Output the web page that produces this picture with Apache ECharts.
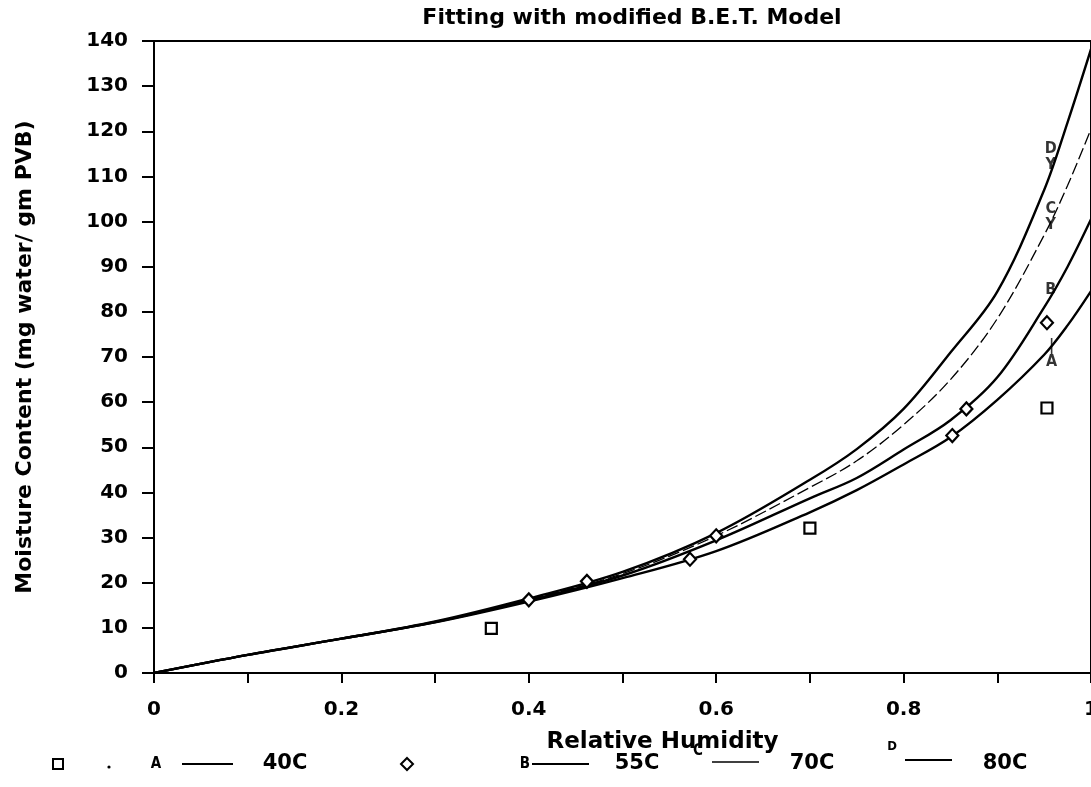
<!DOCTYPE html>
<html>
<head>
<meta charset="utf-8">
<title>Fitting with modified B.E.T. Model</title>
<script src="https://cdn.jsdelivr.net/npm/echarts@6/dist/echarts.min.js"></script>
<style>
  html, body { margin: 0; padding: 0; background: #fff; }
  #chart { width: 1091px; height: 787px; }
</style>
</head>
<body>
<div id="chart"></div>
<script>
// measured points
const rh40 = [0.36, 0.70, 0.953]
const mc40 = [9.9, 32.1, 58.7]
const rh55 = [0.40, 0.462, 0.572, 0.60, 0.852, 0.867, 0.953]
const mc55 = [16.2, 20.3, 25.2, 30.4, 52.6, 58.5, 77.6]

// fitted curves
const rhFit = [0, 0.1, 0.2, 0.3, 0.4, 0.5, 0.6, 0.7, 0.75, 0.8, 0.85, 0.9, 0.95, 0.975, 1.0]
const fitA = [0, 4.0, 7.6, 11.2, 15.8, 21.0, 27.0, 35.6, 40.5, 46.2, 52.2, 60.5, 70.5, 77.0, 84.6]
const fitB = [0, 4.0, 7.6, 11.3, 16.1, 21.6, 29.4, 38.7, 43.2, 49.5, 56.0, 65.5, 81.0, 90.0, 100.5]
const fitC = [0, 4.0, 7.6, 11.3, 16.3, 22.0, 30.4, 41.1, 47.0, 55.0, 65.0, 78.5, 97.0, 108.0, 120.5]
const fitD = [0, 4.0, 7.6, 11.4, 16.5, 22.4, 31.0, 42.8, 49.6, 58.5, 71.0, 84.5, 107.0, 122.0, 138.2]

// curve tags next to the right end
const tagNames = ['D\nY', 'C\nY', 'B', '|\nA']
const tagRh = [0.957, 0.957, 0.957, 0.958]
const tagMc = [114.3, 101.1, 84.8, 70.7]

const font = 'DejaVu Sans'
const narrow = 'DejaVu Sans Condensed'

function pairs(xs, ys) {
  return xs.map((x, i) => [x, ys[i]])
}

function fitSeries(name, ys, width, type) {
  return {
    name: name,
    type: 'line',
    data: pairs(rhFit, ys),
    smooth: 0.35,
    symbol: 'none',
    lineStyle: { color: '#000', width: width, type: type },
    z: 2
  }
}

const chart = echarts.init(document.getElementById('chart'))

// hand drawn style legend row under the axis title
const legendY = 764
const legendItems = [
  { type: 'rect', shape: { x: 53, y: legendY - 5, width: 10, height: 10 }, style: { fill: '#fff', stroke: '#000', lineWidth: 2 } },
  { type: 'circle', shape: { cx: 109, cy: legendY + 3, r: 1.6 }, style: { fill: '#000' } },
  { type: 'text', x: 156, y: legendY, style: { text: 'A', font: 'bold 15px ' + narrow, fill: '#000', align: 'center', verticalAlign: 'middle' } },
  { type: 'line', shape: { x1: 182, y1: legendY, x2: 233, y2: legendY }, style: { stroke: '#000', lineWidth: 2 } },
  { type: 'text', x: 285, y: legendY, style: { text: '40C', font: 'bold 21px ' + font, fill: '#000', align: 'center', verticalAlign: 'middle' } },
  { type: 'polygon', shape: { points: [[407, legendY - 6], [413, legendY], [407, legendY + 6], [401, legendY]] }, style: { fill: '#fff', stroke: '#000', lineWidth: 2 } },
  { type: 'text', x: 525, y: legendY, style: { text: 'B', font: 'bold 15px ' + narrow, fill: '#000', align: 'center', verticalAlign: 'middle' } },
  { type: 'line', shape: { x1: 532, y1: legendY, x2: 589, y2: legendY }, style: { stroke: '#000', lineWidth: 2 } },
  { type: 'text', x: 637, y: legendY, style: { text: '55C', font: 'bold 21px ' + font, fill: '#000', align: 'center', verticalAlign: 'middle' } },
  { type: 'text', x: 698, y: legendY - 13, style: { text: 'C', font: 'bold 15px ' + narrow, fill: '#000', align: 'center', verticalAlign: 'middle' } },
  { type: 'line', shape: { x1: 712, y1: legendY - 2, x2: 759, y2: legendY - 2 }, style: { stroke: '#000', lineWidth: 1.6 } },
  { type: 'text', x: 812, y: legendY, style: { text: '70C', font: 'bold 21px ' + font, fill: '#000', align: 'center', verticalAlign: 'middle' } },
  { type: 'text', x: 892, y: legendY - 17, style: { text: 'D', font: 'bold 13px ' + narrow, fill: '#000', align: 'center', verticalAlign: 'middle' } },
  { type: 'line', shape: { x1: 905, y1: legendY - 4, x2: 952, y2: legendY - 4 }, style: { stroke: '#000', lineWidth: 2 } },
  { type: 'text', x: 1005, y: legendY, style: { text: '80C', font: 'bold 21px ' + font, fill: '#000', align: 'center', verticalAlign: 'middle' } }
]

chart.setOption({
  animation: false,
  backgroundColor: '#fff',
  title: {
    text: 'Fitting with modified B.E.T. Model',
    left: 627,
    top: 2,
    textAlign: 'center',
    textStyle: { fontFamily: font, fontWeight: 'bold', fontSize: 22, color: '#000' }
  },
  grid: {
    left: 154,
    right: 0,
    top: 41,
    bottom: 114,
    outerBoundsMode: 'none',
    show: true,
    borderColor: '#000',
    borderWidth: 2
  },
  xAxis: {
    type: 'value',
    min: 0,
    max: 1,
    interval: 0.1,
    name: 'Relative Humidity',
    nameLocation: 'middle',
    nameGap: 58,
    nameTextStyle: { fontFamily: font, fontWeight: 'bold', fontSize: 23, color: '#000', padding: [0, 0, 0, 80] },
    axisLine: { lineStyle: { color: '#000', width: 2 } },
    axisTick: { length: 10, lineStyle: { color: '#000', width: 2 } },
    axisLabel: {
      margin: 27,
      fontFamily: font,
      fontWeight: 'bold',
      fontSize: 20,
      color: '#000',
      formatter: function (v) {
        return Math.round(v * 10) % 2 === 0 ? String(+v.toFixed(1)) : ''
      }
    },
    splitLine: { show: false }
  },
  yAxis: {
    type: 'value',
    min: 0,
    max: 140,
    interval: 10,
    name: 'Moisture Content (mg water/ gm PVB)',
    nameLocation: 'middle',
    nameGap: 118,
    nameTextStyle: { fontFamily: font, fontWeight: 'bold', fontSize: 22, color: '#000' },
    axisLine: { lineStyle: { color: '#000', width: 2 } },
    axisTick: { length: 12, lineStyle: { color: '#000', width: 2 } },
    axisLabel: { margin: 26, fontFamily: font, fontWeight: 'bold', fontSize: 20, color: '#000' },
    splitLine: { show: false }
  },
  series: [
    fitSeries('A', fitA, 2.4, 'solid'),
    fitSeries('B', fitB, 2.4, 'solid'),
    fitSeries('C', fitC, 1.3, [12, 4]),
    fitSeries('D', fitD, 2.4, 'solid'),
    {
      name: '40C',
      type: 'scatter',
      data: pairs(rh40, mc40),
      symbol: 'rect',
      symbolSize: 11,
      itemStyle: { color: '#fff', borderColor: '#000', borderWidth: 2.2, opacity: 1 },
      z: 4
    },
    {
      name: '55C',
      type: 'scatter',
      data: pairs(rh55, mc55),
      symbol: 'diamond',
      symbolSize: [12, 13],
      itemStyle: { color: '#fff', borderColor: '#000', borderWidth: 2.2, opacity: 1 },
      z: 4
    },
    {
      name: 'tags',
      type: 'scatter',
      data: tagNames.map((n, i) => ({ name: n, value: [tagRh[i], tagMc[i]] })),
      symbolSize: 0,
      silent: true,
      label: {
        show: true,
        position: 'inside',
        formatter: '{b}',
        fontFamily: narrow,
        fontWeight: 'bold',
        fontSize: 16,
        lineHeight: 16,
        color: '#000'
      },
      z: 5
    }
  ],
  graphic: legendItems
})
</script>
</body>
</html>
